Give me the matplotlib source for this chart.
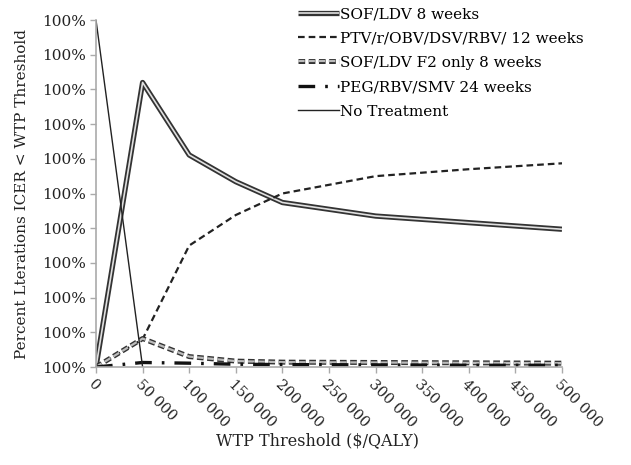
import matplotlib
matplotlib.use("Agg")
import matplotlib.pyplot as plt
import matplotlib.patheffects as pe
from matplotlib.ticker import FixedLocator, FixedFormatter

# ========== 数据 ==========
wtp = [0, 50000, 100000, 150000, 200000, 300000, 400000, 500000]
sof_ldv_8w = [0.0, 0.82, 0.611, 0.534, 0.474, 0.435, 0.416, 0.397]
ptv_12w = [0.0, 0.08, 0.35, 0.438, 0.50, 0.55, 0.57, 0.587]
sof_ldv_f2 = [0.0, 0.082, 0.03, 0.017, 0.014, 0.013, 0.012, 0.011]
peg_rbv_smv = [0.0, 0.013, 0.011, 0.008, 0.007, 0.006, 0.005, 0.005]
no_treat_x = [0, 50000]
no_treat = [1.0, 0.0]

y_ticks = [i / 10 for i in range(11)]
y_labels = ["100%"] * 11  # 原图所有刻度都写成 100%
x_ticks = list(range(0, 500001, 50000))
x_labels = ["0"] + [f"{v // 1000} 000" for v in x_ticks[1:]]

plt.rcParams["font.family"] = ["DejaVu Serif"]

fig = plt.figure(figsize=(6.31, 4.65), dpi=100)
ax = fig.add_axes([96 / 631, 1 - 367 / 465, 466 / 631, 347 / 465])

# SOF/LDV 8 weeks：双线效果
ax.plot(wtp, sof_ldv_8w, color="#e0e0e0", lw=1.2, solid_capstyle="butt",
        path_effects=[pe.Stroke(linewidth=3.8, foreground="#333333"), pe.Normal()],
        label="SOF/LDV 8 weeks")
ax.plot(wtp, ptv_12w, color="#222222", lw=1.6, dashes=(3, 1.8),
        label="PTV/r/OBV/DSV/RBV/ 12 weeks")
ax.plot(wtp, sof_ldv_f2, color="#bbbbbb", lw=1.6, dashes=(3, 1.6),
        path_effects=[pe.Stroke(linewidth=3.6, foreground="#333333"), pe.Normal()],
        label="SOF/LDV F2 only 8 weeks")
ax.plot(wtp, peg_rbv_smv, color="#111111", lw=2.4, dashes=(5, 3, 0.8, 3),
        label="PEG/RBV/SMV 24 weeks")
ax.plot(no_treat_x, no_treat, color="#222222", lw=1.0, label="No Treatment")

ax.set_xlim(0, 500000)
ax.set_ylim(0, 1.0)
ax.yaxis.set_major_locator(FixedLocator(y_ticks))
ax.yaxis.set_major_formatter(FixedFormatter(y_labels))
ax.xaxis.set_major_locator(FixedLocator(x_ticks))
ax.xaxis.set_major_formatter(FixedFormatter(x_labels))
plt.setp(ax.get_xticklabels(), rotation=-45, ha="left", rotation_mode="anchor")

for s in ["top", "right"]:
    ax.spines[s].set_visible(False)
for s in ["left", "bottom"]:
    ax.spines[s].set_color("#aaaaaa")
    ax.spines[s].set_linewidth(1.2)
ax.tick_params(axis="both", colors="#aaaaaa", labelcolor="#222222",
               labelsize=11, length=4, width=1)
ax.tick_params(axis="x", pad=3, labelsize=10.5)

ax.set_xlabel("WTP Threshold ($/QALY)", fontsize=11.5, color="#222222", labelpad=2)
ax.xaxis.label.set_x(0.475)
ax.set_ylabel("Percent Lterations ICER < WTP Threshold", fontsize=11,
              color="#222222", labelpad=9)

leg = ax.legend(loc="upper left", bbox_to_anchor=(298 / 631, 1 - 7 / 465),
                bbox_transform=fig.transFigure, frameon=False, fontsize=11,
                handlelength=2.7, handletextpad=0.05, labelspacing=0.68,
                borderaxespad=0, borderpad=0)

fig.savefig("out.png", dpi=100)
